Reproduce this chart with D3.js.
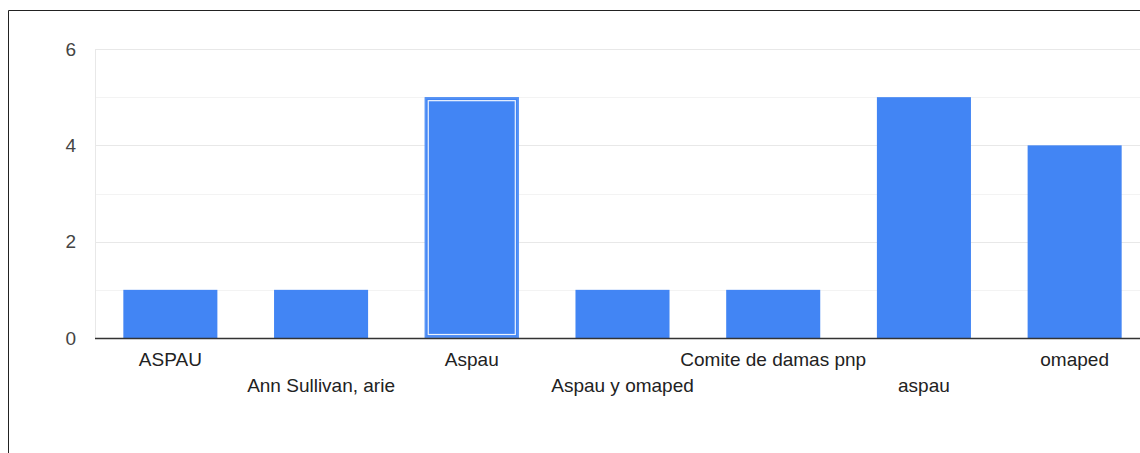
<!DOCTYPE html>
<html><head><meta charset="utf-8">
<script src="https://cdn.jsdelivr.net/npm/d3@7"></script>
<style>body{margin:0;background:#fff}svg{display:block}</style>
</head><body>
<svg id="c" width="1140" height="453"></svg>
<script>
const categories = ["ASPAU","Ann Sullivan, arie","Aspau","Aspau y omaped","Comite de damas pnp","aspau","omaped"];
const values = [1,1,5,1,1,5,4];
const yTicks = [0,2,4,6];
const minorTicks = [1,3,5];
const highlighted = "Aspau";

(function(){
const svg = d3.select("#c");
const mLeft = 95, mRight = 1150, mTop = 49, mBottom = 338;
const font = "'Liberation Sans', Arial, sans-serif";
const x = d3.scaleBand().domain(categories).range([mLeft, mRight]).paddingInner(0.376).paddingOuter(0.188);
const y = d3.scaleLinear().domain([0,6]).range([mBottom, mTop]);

// frame
svg.append("path").attr("d","M8.5,453 V10.5 H1140").attr("fill","none").attr("stroke","#222").attr("stroke-width",1);

// grid
svg.selectAll(".minor").data(minorTicks).join("line")
  .attr("x1",mLeft).attr("x2",1140).attr("y1",d=>Math.round(y(d))+0.5).attr("y2",d=>Math.round(y(d))+0.5)
  .attr("stroke","#f3f3f3");
svg.selectAll(".major").data(yTicks.filter(d=>d>0)).join("line")
  .attr("x1",mLeft).attr("x2",1140).attr("y1",d=>Math.round(y(d))+0.5).attr("y2",d=>Math.round(y(d))+0.5)
  .attr("stroke","#e8e8e8");
svg.append("line").attr("x1",mLeft+0.5).attr("x2",mLeft+0.5).attr("y1",mTop).attr("y2",mBottom).attr("stroke","#e8e8e8");

// y labels
svg.selectAll(".yl").data(yTicks).join("text")
  .attr("x",76).attr("y",d=>y(d)+6.8).attr("text-anchor","end")
  .attr("font-family",font).attr("font-size",19).attr("fill","#444")
  .text(d=>d);

// bars
svg.selectAll(".bar").data(categories).join("rect")
  .attr("x",d=>x(d)).attr("width",x.bandwidth())
  .attr("y",(d,i)=>y(values[i])).attr("height",(d,i)=>y(0)-y(values[i]))
  .attr("fill","#4285f4");
// highlight
const hi = categories.indexOf(highlighted);
svg.append("rect")
  .attr("x",x(highlighted)+0.75).attr("width",x.bandwidth()-1.5)
  .attr("y",y(values[hi])+0.75).attr("height",y(0)-y(values[hi])-1.5)
  .attr("fill","none").attr("stroke","#5a95f5").attr("stroke-width",1.5);
svg.append("rect")
  .attr("x",x(highlighted)+3.5).attr("width",x.bandwidth()-7)
  .attr("y",y(values[hi])+3.5).attr("height",y(0)-y(values[hi])-7)
  .attr("fill","none").attr("stroke","#fff").attr("stroke-width",1.2).attr("opacity",0.9);

// baseline
svg.append("line").attr("x1",mLeft).attr("x2",1140).attr("y1",mBottom+0.5).attr("y2",mBottom+0.5)
  .attr("stroke","#333").attr("stroke-width",1.5);

// x labels
svg.selectAll(".xl").data(categories).join("text")
  .attr("x",d=>x(d)+x.bandwidth()/2).attr("y",(d,i)=> i%2===0 ? 366 : 392)
  .attr("text-anchor","middle")
  .attr("font-family",font).attr("font-size",19).attr("fill","#222")
  .text(d=>d);
})();
</script>
</body></html>
